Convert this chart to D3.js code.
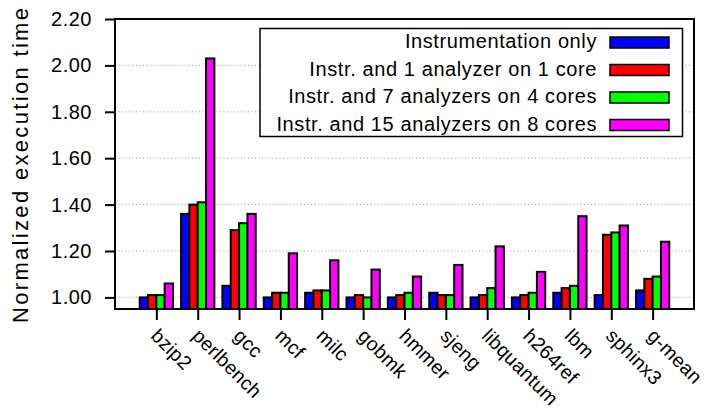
<!DOCTYPE html>
<html>
<head>
<meta charset="utf-8">
<script src="https://cdn.jsdelivr.net/npm/d3@7"></script>
<style>
  html, body { margin: 0; padding: 0; background: #fff; }
  svg text { font-family: "Liberation Sans", Arial, Helvetica, sans-serif; fill: #000; }
</style>
</head>
<body>
<svg id="chart" width="706" height="414"></svg>
<script>
// Benchmarks on the x axis
const categories = ["bzip2", "perlbench", "gcc", "mcf", "milc", "gobmk", "hmmer",
  "sjeng", "libquantum", "h264ref", "lbm", "sphinx3", "g-mean"];

// Configurations (legend order)
const seriesNames = [
  "Instrumentation only",
  "Instr. and 1 analyzer on 1 core",
  "Instr. and 7 analyzers on 4 cores",
  "Instr. and 15 analyzers on 8 cores"
];
const seriesColors = ["#0000ff", "#ff0000", "#00ff00", "#ff00ff"];

// Normalized execution time per configuration
const instrOnly   = [1.00, 1.36, 1.05, 1.00, 1.02, 1.00, 1.00, 1.02, 1.00, 1.00, 1.02, 1.01, 1.03];
const oneAnalyzer = [1.01, 1.40, 1.29, 1.02, 1.03, 1.01, 1.01, 1.01, 1.01, 1.01, 1.04, 1.27, 1.08];
const sevenAnalyzers   = [1.01, 1.41, 1.32, 1.02, 1.03, 1.00, 1.02, 1.01, 1.04, 1.02, 1.05, 1.28, 1.09];
const fifteenAnalyzers = [1.06, 2.03, 1.36, 1.19, 1.16, 1.12, 1.09, 1.14, 1.22, 1.11, 1.35, 1.31, 1.24];
const seriesValues = [instrOnly, oneAnalyzer, sevenAnalyzers, fifteenAnalyzers];

// Y axis tick values
const yTicks = [1.00, 1.20, 1.40, 1.60, 1.80, 2.00, 2.20];

const svg = d3.select("#chart");
const plot = { left: 115, right: 694, top: 19, bottom: 309 };

const x = d3.scalePoint().domain(categories).range([plot.left, plot.right]).padding(1);
const groupWidth = 33.3;
const xs = d3.scaleBand().domain(d3.range(seriesNames.length))
  .range([-groupWidth / 2, groupWidth / 2]).padding(0);
const y = d3.scaleLinear().domain([0.95, 2.20]).range([plot.bottom, plot.top]);

// Dotted grid lines
svg.append("g").selectAll("line")
  .data(yTicks.filter(d => d < 2.2))
  .join("line")
  .attr("x1", plot.left).attr("x2", plot.right)
  .attr("y1", d => y(d)).attr("y2", d => y(d))
  .attr("stroke", "#9a9a9a").attr("stroke-width", 1)
  .attr("stroke-dasharray", "1,2.5");

// Bars
const rows = [];
categories.forEach((c, i) => {
  seriesValues.forEach((vals, s) => rows.push({ c, s, v: vals[i] }));
});
svg.append("g").selectAll("rect")
  .data(rows)
  .join("rect")
  .attr("x", d => x(d.c) + xs(d.s))
  .attr("width", xs.bandwidth())
  .attr("y", d => y(d.v))
  .attr("height", d => plot.bottom - y(d.v))
  .attr("fill", d => seriesColors[d.s])
  .attr("stroke", "#000").attr("stroke-width", 2);

// Y axis
const yAxis = svg.append("g")
  .attr("transform", `translate(${plot.left},0)`)
  .call(d3.axisLeft(y).tickValues(yTicks).tickFormat(d3.format(".2f"))
    .tickSize(10).tickPadding(13));
yAxis.select(".domain").remove();
yAxis.selectAll(".tick line").attr("stroke", "#000").attr("stroke-width", 2);
yAxis.selectAll(".tick text")
  .attr("font-size", 20).attr("font-family", null)
  .attr("letter-spacing", 0.5);

// X axis with rotated labels
const xAxis = svg.append("g")
  .attr("transform", `translate(0,${plot.bottom})`)
  .call(d3.axisBottom(x).tickSize(11).tickSizeOuter(0));
xAxis.select(".domain").remove();
xAxis.selectAll(".tick line").attr("stroke", "#000").attr("stroke-width", 2);
xAxis.selectAll(".tick text")
  .attr("font-size", 19.5).attr("font-family", null)
  .attr("letter-spacing", 0.3)
  .attr("y", 0).attr("dy", 0)
  .attr("text-anchor", "start")
  .attr("transform", "translate(-7,28) rotate(45)");

// Plot frame
svg.append("rect")
  .attr("x", plot.left).attr("y", plot.top)
  .attr("width", plot.right - plot.left).attr("height", plot.bottom - plot.top)
  .attr("fill", "none").attr("stroke", "#000").attr("stroke-width", 2);

// Y axis title
svg.append("text")
  .attr("transform", "translate(28,165.5) rotate(-90)")
  .attr("text-anchor", "middle")
  .attr("font-size", 22)
  .attr("textLength", 315)
  .attr("lengthAdjust", "spacing")
  .text("Normalized execution time");

// Legend
const legend = svg.append("g");
legend.append("rect")
  .attr("x", 260).attr("y", 28.5).attr("width", 422.5).attr("height", 108)
  .attr("fill", "#fff").attr("stroke", "#000").attr("stroke-width", 1.5);
const rowStep = 27.5;
const item = legend.selectAll("g.item")
  .data(seriesNames)
  .join("g").attr("class", "item")
  .attr("transform", (d, i) => `translate(0,${48 + i * rowStep})`);
item.append("text")
  .attr("x", 597).attr("y", 0)
  .attr("text-anchor", "end")
  .attr("font-size", 20)
  .attr("letter-spacing", 0.6)
  .text(d => d);
item.append("rect")
  .attr("x", 610).attr("y", -11).attr("width", 59).attr("height", 11)
  .attr("fill", (d, i) => seriesColors[i])
  .attr("stroke", "#000").attr("stroke-width", 1.5);
</script>
</body>
</html>
